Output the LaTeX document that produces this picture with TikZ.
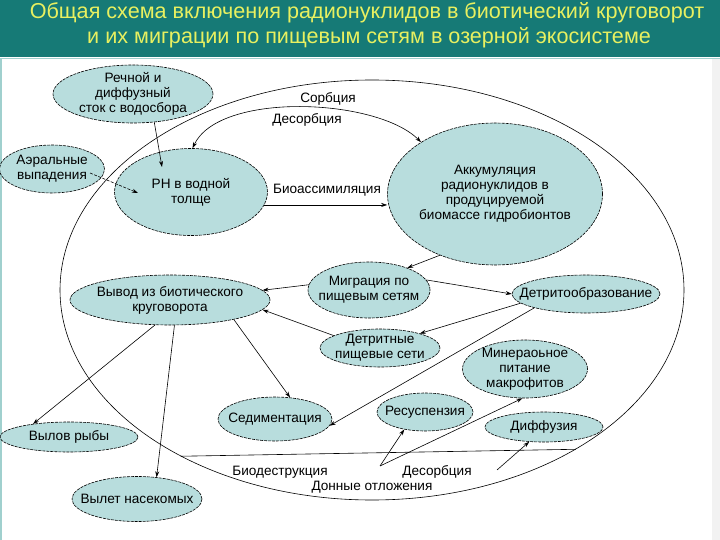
\documentclass[tikz,border=0pt]{standalone}
\usepackage{fontspec}
\setmainfont{Liberation Sans}
\usepackage{tikz}
\usetikzlibrary{arrows.meta, shapes.geometric}
\definecolor{band}{RGB}{22,122,118}
\definecolor{headtext}{RGB}{232,240,96}
\definecolor{rim}{RGB}{160,208,206}
\definecolor{blobfill}{RGB}{184,221,221}
\tikzset{%
	blob/.style={
		ellipse,
		draw,
		dash pattern=on 3pt off 1pt,
		fill=blobfill,
		inner xsep=-40pt,
		inner ysep=-20pt,
		align=center,
		font=\fontsize{13.6}{15}\selectfont
	},
	heading/.style={
		text=headtext,
		font=\fontsize{21.6}{24}\selectfont
	},
	tag/.style={
		inner sep=1pt,
		font=\fontsize{13.6}{15}\selectfont
	},
	>={Stealth[length=6pt,width=4pt]},
}
\begin{document}
\begin{tikzpicture}[x=1pt, y=-1pt, line width=0.6pt]
			\useasboundingbox (0,0) rectangle (720,540);
			\fill[band] (0,0) rectangle (720,57);
			\draw[rim, line width=1.5pt] (0,58.5) -- (720,58.5);
			\draw[rim, line width=2pt] (1,58) -- (1,540);
			\fill[black!5] (712,59.5) rectangle (720,540);
			\node[heading] (head1) at (367,13) {Общая схема включения радионуклидов в биотический круговорот};
			\node[heading] (head2) at (369,38) {и их миграции по пищевым сетям в озерной экосистеме};
			
			% lake and bottom sediments
			\node[ellipse, draw, minimum width=624pt, minimum height=420pt, inner sep=0pt] (lake) at (372,290) {};
			\draw (lake.-139) -- (lake.-38);
			\node[tag] (biodes) at (280,472) {Биодеструкция};
			\node[tag] (desbed) at (437,472) {Десорбция};
			\node[tag] (bed) at (372,487) {Донные отложения};
			\coordinate (desL) at (380,466);
			\coordinate (desR) at (497,470);
			
			\node[blob, minimum width=160pt, minimum height=58pt] (stok) at (133,94) {Речной и\\диффузный\\сток с водосбора};
			\node[blob, minimum width=105pt, minimum height=48pt] (aer) at (52,169) {Аэральные\\выпадения};
			\node[blob, minimum width=153pt, minimum height=87pt] (rh) at (191,192) {РН в водной\\толще};
			\node[blob, minimum width=215pt, minimum height=142pt] (akk) at (495,194) {Аккумуляция\\радионуклидов в\\продуцируемой\\биомассе гидробионтов};
			\node[blob, minimum width=122pt, minimum height=56pt] (migr) at (369,290) {Миграция по\\пищевым сетям};
			\node[blob, minimum width=148pt, minimum height=38pt] (detr) at (586,294) {Детритообразование};
			\node[blob, minimum width=200pt, minimum height=50pt] (vyv) at (170,300) {Вывод из биотического\\круговорота};
			\node[blob, minimum width=120pt, minimum height=38pt] (dps) at (380,348) {Детритные\\пищевые сети};
			\node[blob, minimum width=125pt, minimum height=58pt] (mineral) at (525,369) {Минераоьное\\питание\\макрофитов};
			\node[blob, minimum width=114pt, minimum height=44pt] (sed) at (275,419) {Седиментация};
			\node[blob, minimum width=96pt, minimum height=38pt] (resus) at (425,412) {Ресуспензия};
			\node[blob, minimum width=118pt, minimum height=30pt] (diff) at (544,427) {Диффузия};
			\node[blob, minimum width=138pt, minimum height=30pt] (fish) at (69,437) {Вылов рыбы};
			\node[blob, minimum width=130pt, minimum height=45pt] (insect) at (137,499) {Вылет насекомых};
			
			\node[tag] (sorb) at (328,99) {Сорбция};
			\node[tag] (desorb) at (307,120) {Десорбция};
			\node[tag] (bioas) at (327,190) {Биоассимиляция};
			
			\draw[->] (stok.-53) -- ([shift={(-29,-25)}]rh.center);
			\draw[->, dash pattern=on 3pt off 1.5pt] ([shift={(38,4)}]aer.center) -- ([shift={(-53,1)}]rh.center);
			\draw[<->] (rh.88) to[out=65, in=135, looseness=0.7] (akk.145);
			\draw[->] (rh.-10) -- (akk.west |- rh.-10);
			\draw[->] (akk.-132) -- (migr.30);
			\draw[->] (migr.175) -- (vyv.6);
			\draw[->] (migr.10) -- (detr.180);
			\draw[->] (detr.188) -- (dps.20);
			\draw[->] (dps.165) -- (vyv.-6);
			\draw[->] (detr.195) -- (sed.-7);
			\draw[->] (vyv.-121) -- (fish.160);
			\draw[->] (vyv.-80) -- (insect.48);
			\draw[->] (vyv.-17) -- (sed.55);
			\draw[->] (desL) -- (resus.-140);
			\draw[->] (desL) -- (mineral.-95);
			\draw[->] (desR) -- (diff.-135);
			
			
\end{tikzpicture}
\end{document}
